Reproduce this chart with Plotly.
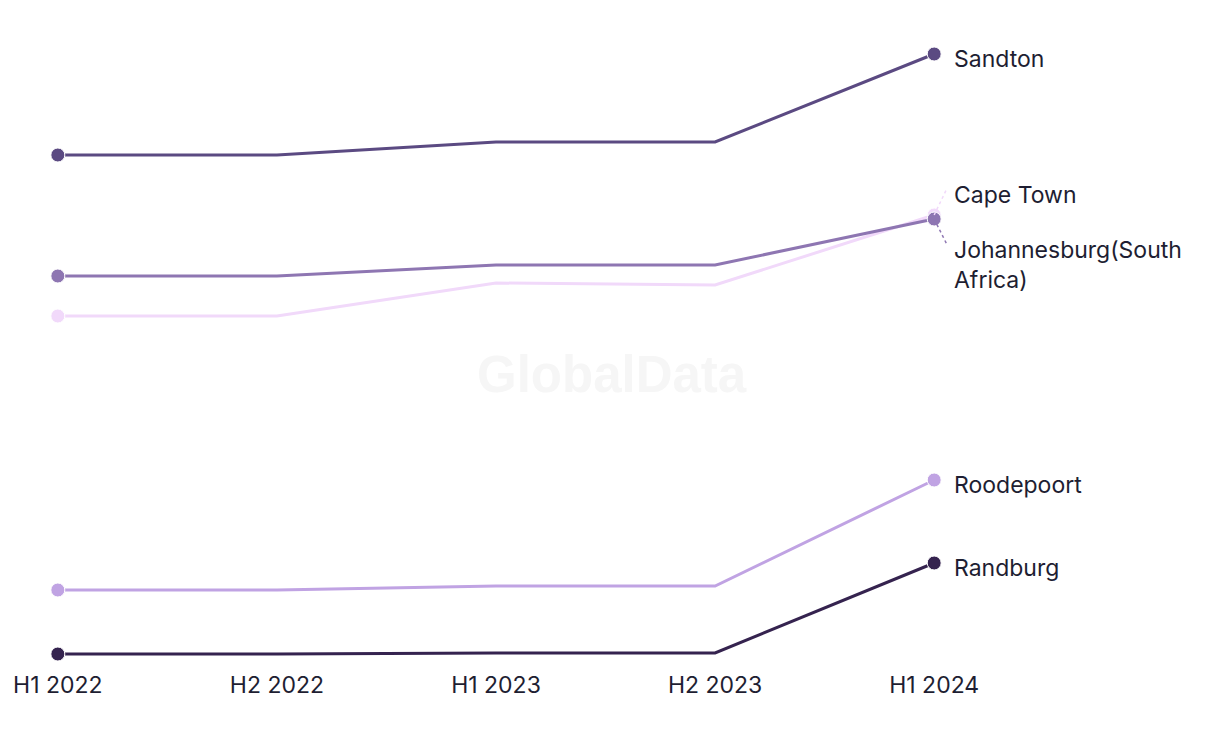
import plotly.graph_objects as go

periods = ["H1 2022", "H2 2022", "H1 2023", "H2 2023", "H1 2024"]
series_names = ["Sandton", "Cape Town", "Johannesburg(South<br>Africa)", "Roodepoort", "Randburg"]
sandton = [545, 545, 558, 558, 646]
cape_town = [384, 384, 417, 415, 485]
johannesburg = [424, 424, 435, 435, 481]
roodepoort = [110, 110, 114, 114, 220]
randburg = [46, 46, 47, 47, 137]
colors = ["#5b4a82", "#f1d9fa", "#8e76b2", "#c0a3e3", "#35234f"]

all_values = [sandton, cape_town, johannesburg, roodepoort, randburg]
# label offsets (pixels) relative to the last point
label_shift = [(0, -5), (0, 20), (0, -46), (0, -5), (0, -5)]
leader = [None, (13, 27), (13, -26), None, None]

TEXT = "#1e1e32"
FONT = "Inter, Roboto, sans-serif"

L, R, T, B = 6, 250, 22, 88
W, H = 1220, 744
fig = go.Figure()
for name, vals, col in zip(series_names, all_values, colors):
    n = len(vals)
    fig.add_trace(go.Scatter(
        x=periods, y=vals, mode="lines+markers", name=name,
        line=dict(color=col, width=3),
        marker=dict(color=col, size=[14] + [0] * (n - 2) + [14], opacity=1),
        cliponaxis=False, showlegend=False, hoverinfo="x+y",
    ))

for i, (name, vals, col) in enumerate(zip(series_names, all_values, colors)):
    dx, dy = label_shift[i]
    fig.add_annotation(
        x=periods[-1], y=vals[-1], text=name, showarrow=False,
        xanchor="left", yanchor="middle", align="left",
        xshift=18 + dx, yshift=dy,
        font=dict(family=FONT, size=23, color=TEXT),
    )
    if leader[i] is not None:
        lx, ly = leader[i]
        fig.add_shape(
            type="line", xref="x", yref="y",
            xsizemode="pixel", ysizemode="pixel",
            xanchor=periods[-1], yanchor=vals[-1],
            x0=0, y0=0, x1=lx, y1=ly,
            line=dict(color=col, width=1.5, dash="dot"),
        )

pw, ph = W - L - R, H - T - B
fig.add_annotation(
    x=(604 - L) / pw, y=(H - B - 366) / ph, xref="paper", yref="paper",
    text="<b>GlobalData</b>", showarrow=False,
    font=dict(family="Liberation Sans, Arial, sans-serif", size=51, color="#f6f6f6"),
)

fig.update_layout(
    width=W, height=H,
    margin=dict(l=L, r=R, t=T, b=B),
    paper_bgcolor="white", plot_bgcolor="white",
    xaxis=dict(type="category", range=[-0.2, 4.2], showgrid=False, zeroline=False,
               showline=False, ticks="", ticklabelstandoff=5,
               tickfont=dict(family=FONT, size=23, color=TEXT)),
    yaxis=dict(range=[36, 670], visible=False, showgrid=False, zeroline=False),
)

fig.write_html("out.html")
